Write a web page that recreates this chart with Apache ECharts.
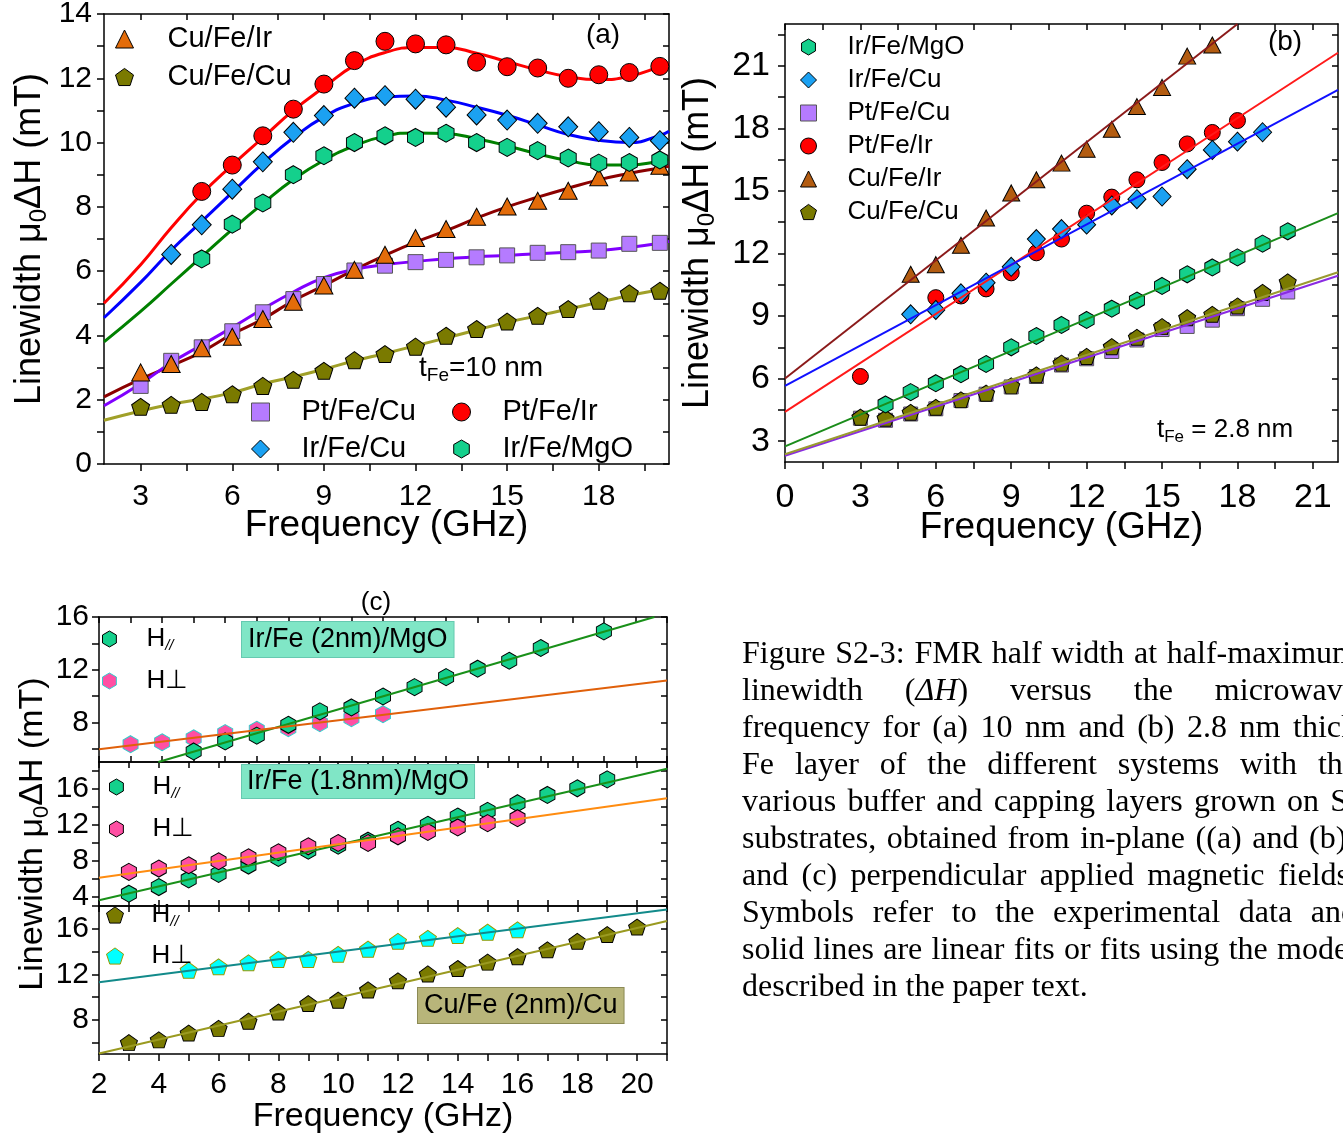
<!DOCTYPE html>
<html><head><meta charset="utf-8">
<script src="https://cdn.jsdelivr.net/npm/echarts@6/dist/echarts.min.js"></script>
<style>
html,body{margin:0;padding:0;background:#fff;overflow:hidden;width:1343px;height:1137px;}
#chart{position:absolute;left:0;top:0;width:1343px;height:1137px;}
#cap{position:absolute;left:742px;top:634px;width:615px;font-family:"Liberation Serif","Times New Roman",serif;font-size:32px;line-height:37px;color:#000;pointer-events:none;}
#cap div{height:37px;overflow:hidden;text-align:justify;text-align-last:justify;}
#cap div.last{text-align-last:left;}
</style></head><body>
<div id="chart"></div>
<div id="cap">
<div>Figure S2-3: FMR half width at half-maximum</div>
<div>linewidth (<i>ΔH</i>) versus the microwave</div>
<div>frequency for (a) 10 nm and (b) 2.8 nm thick</div>
<div>Fe layer of the different systems with the</div>
<div>various buffer and capping layers grown on Si</div>
<div>substrates, obtained from in-plane ((a) and (b))</div>
<div>and (c) perpendicular applied magnetic fields.</div>
<div>Symbols refer to the experimental data and</div>
<div>solid lines are linear fits or fits using the model</div>
<div class="last">described in the paper text.</div>
</div>
<script>
// ---------------- Panel (a): t_Fe = 10 nm ----------------
const freqA = [3,4,5,6,7,8,9,10,11,12,13,14,15,16,17,18,19,20];
const freqA4 = [4,5,6,7,8,9,10,11,12,13,14,15,16,17,18,19,20];
const freqA5 = [5,6,7,8,9,10,11,12,13,14,15,16,17,18,19,20];
const aCuFeIr = [2.85,3.11,3.6,3.96,4.51,5.05,5.55,6.04,6.51,7.03,7.31,7.69,8.01,8.19,8.5,8.92,9.07,9.28];
const aPtFeCu = [2.43,3.21,3.63,4.13,4.72,5.13,5.6,6.02,6.17,6.28,6.35,6.43,6.49,6.57,6.59,6.64,6.85,6.88];
const aCuFeCu = [1.78,1.84,1.93,2.17,2.43,2.62,2.9,3.23,3.42,3.65,3.99,4.2,4.43,4.61,4.82,5.08,5.31,5.39];
const aIrFeCu = [6.52,7.44,8.55,9.4,10.32,10.84,11.38,11.46,11.35,11.1,10.86,10.7,10.6,10.49,10.34,10.16,10.06];
const aPtFeIr = [8.48,9.3,10.21,11.04,11.82,12.55,13.15,13.07,13.04,12.5,12.36,12.32,12.0,12.11,12.18,12.37];
const aIrFeMgO = [6.38,7.46,8.12,9.0,9.59,10.0,10.21,10.16,10.29,10.0,9.85,9.75,9.52,9.36,9.38,9.46];
// model fit curves
const fitXA = [1.8,3,4,5,6,7,8,9,10,11,12,13,14,15,16,17,18,19,20,20.3];
const aFitPtFeIr = [5.0,6.2,7.35,8.4,9.3,10.15,11.0,11.72,12.4,12.8,12.96,12.96,12.78,12.52,12.26,12.05,11.96,12.06,12.36,12.48];
const aFitIrFeCu = [4.55,5.65,6.65,7.55,8.45,9.35,10.15,10.8,11.22,11.42,11.45,11.32,11.1,10.85,10.55,10.25,10.07,10.0,10.22,10.35];
const aFitIrFeMgO = [3.8,4.75,5.6,6.45,7.3,8.1,8.85,9.45,9.9,10.2,10.3,10.28,10.12,9.9,9.65,9.44,9.3,9.3,9.42,9.47];
const aFitCuFeIr = [2.09,2.64,3.05,3.49,4.04,4.51,5.08,5.55,6.04,6.49,6.9,7.26,7.65,8.0,8.3,8.58,8.84,9.04,9.21,9.26];
const aFitPtFeCu = [1.81,2.5,3.15,3.7,4.25,4.82,5.35,5.8,6.05,6.2,6.3,6.38,6.45,6.49,6.54,6.59,6.64,6.74,6.87,6.93];
const aFitCuFeCu = [1.36,1.65,1.86,2.02,2.22,2.49,2.71,2.95,3.21,3.44,3.68,3.92,4.17,4.41,4.61,4.82,5.03,5.24,5.42,5.46];

// ---------------- Panel (b): t_Fe = 2.8 nm ----------------
const freqB3 = [3,4,5,6,7,8,9,10,11,12,13,14,15,16,17,18,19,20];
const freqB4 = [4,5,6,7,8,9,10,11,12,13,14,15,16,17,18,19,20];
const freqBIrCu = [5,6,7,8,9,10,11,12,13,14,15,16,17,18,19];
const freqBPtIr = [3,6,7,8,9,10,11,12,13,14,15,16,17,18];
const freqBCuIr = [5,6,7,8,9,10,11,12,13,14,15,16,17];
const bCuFeCu = [4.15,4.1,4.38,4.62,4.98,5.3,5.65,6.18,6.74,7.06,7.53,7.98,8.49,8.92,9.08,9.48,10.13,10.64];
const bPtFeCu = [4.1,4.0,4.3,4.55,4.95,5.25,5.6,6.1,6.65,6.95,7.3,7.85,8.35,8.5,8.8,9.35,9.8,10.15];
const bIrFeMgO = [4.76,5.35,5.78,6.21,6.7,7.5,8.04,8.57,8.81,9.35,9.74,10.44,11.0,11.33,11.81,12.47,13.06];
const bIrFeCu = [9.08,9.29,10.09,10.6,11.36,12.69,13.17,13.38,14.3,14.6,14.73,16.04,16.96,17.36,17.81];
const bPtFeIr = [6.1,9.88,9.96,10.3,11.07,12.03,12.69,13.93,14.7,15.53,16.36,17.25,17.8,18.37];
const bCuFeIr = [11.0,11.46,12.39,13.7,14.9,15.53,16.33,17.0,17.95,19.04,19.96,21.46,21.99];
// linear fits (end points)
const fitXB = [0,22];
const fitXBCuIr = [0,18];
const bFitCuFeIr = [6.0,23.0];
const bFitPtFeIr = [4.4,21.62];
const bFitIrFeCu = [5.65,19.84];
const bFitIrFeMgO = [2.75,13.93];
const bFitCuFeCu = [2.37,11.1];
const bFitPtFeCu = [2.3,10.93];

// ---------------- Panel (c): perpendicular / parallel ----------------
const c1FreqPerp = [3,4,5,6,7,8,9,10,11];
const c1Perp = [6.35,6.5,6.8,7.19,7.44,7.57,7.95,8.33,8.63];
const c1FreqPar = [5,6,7,8,9,10,11,12,13,14,15,16,18];
const c1Par = [5.8,6.56,7.0,7.82,8.84,9.14,9.97,10.68,11.44,12.08,12.68,13.65,14.91];
const c1FitParX = [3.88,19.6], c1FitPar = [5.0,16.0];
const c1FitPerpX = [2,20], c1FitPerp = [5.97,11.19];

const c2FreqPar = [3,4,5,6,7,8,9,10,11,12,13,14,15,16,17,18,19];
const c2Par = [4.37,5.1,5.95,6.57,7.49,8.34,9.15,9.7,10.26,11.47,12.02,12.94,13.57,14.42,15.34,16.08,17.07];
const c2FreqPerp = [3,4,5,6,7,8,9,10,11,12,13,14,15,16];
const c2Perp = [6.79,7.16,7.53,7.97,8.41,8.97,9.63,10.0,10.0,10.74,11.22,11.73,12.21,12.76];
const c2FitX = [2,21], c2FitPar = [3.63,18.26], c2FitPerp = [6.13,14.96];

const c3FreqPar = [3,4,5,6,7,8,9,10,11,12,13,14,15,16,17,18,19,20];
const c3Par = [6.0,6.24,6.84,7.25,7.88,8.69,9.43,9.73,10.63,11.43,12.03,12.51,13.07,13.55,14.15,14.9,15.49,16.15];
const c3FreqPerp = [5,6,7,8,9,10,11,12,13,14,15,16];
const c3Perp = [12.36,12.66,13.01,13.31,13.31,13.76,14.21,14.9,15.16,15.4,15.7,15.91];
const c3FitX = [2,21], c3FitPar = [5.04,16.69], c3FitPerp = [11.3,17.7];

// ---------------- tick labels / tick positions ----------------
const aXLabels = [3,6,9,12,15,18];
const aXTicks = [3,4.5,6,7.5,9,10.5,12,13.5,15,16.5,18,19.5];
const aYLabels = [0,2,4,6,8,10,12,14];
const aYTicks = [0,1,2,3,4,5,6,7,8,9,10,11,12,13,14];
const bXLabels = [0,3,6,9,12,15,18,21];
const bXTicks = [0,1.5,3,4.5,6,7.5,9,10.5,12,13.5,15,16.5,18,19.5,21];
const bYLabels = [3,6,9,12,15,18,21];
const bYTicks = [3,4.5,6,7.5,9,10.5,12,13.5,15,16.5,18,19.5,21,22.5];
const cXLabels = [2,4,6,8,10,12,14,16,18,20];
const c1XTicks = [2,3,4,5,6,7,8,9,10,11,12,13,14,15,16,17,18,19,20];
const c23XTicks = [2,3,4,5,6,7,8,9,10,11,12,13,14,15,16,17,18,19,20,21];
const c1YLabels = [8,12,16], c1YTicks = [6,8,10,12,14,16];
const c2YLabels = [4,8,12,16], c2YTicks = [4,6,8,10,12,14,16,18];
const c3YLabels = [8,12,16], c3YTicks = [6,8,10,12,14,16,18];

// ---------------- helpers ----------------
const FONT = '"Liberation Sans", Arial, Helvetica, sans-serif';
const HEX = 'path://M50,0L93.3,25L93.3,75L50,100L6.7,75L6.7,25Z';
const PENT = 'path://M50,0L97.6,34.5L79.4,90.5L20.6,90.5L2.4,34.5Z';
const pts = (xs, ys) => xs.map((x, i) => [x, ys[i]]);

function axis(grid, pos, min, max, ticks, labels, fontSize, margin, inside, extra) {
  const a = {
    type: 'value', gridIndex: grid, position: pos, min: min, max: max,
    splitLine: { show: false },
    axisLine: { show: true, onZero: false, lineStyle: { color: '#000', width: 1.5 } },
    axisTick: { show: true, inside: inside, length: inside ? 6 : 7, lineStyle: { color: '#000', width: 1.5 }, customValues: ticks },
    axisLabel: labels ? { show: true, customValues: labels, fontSize: fontSize, fontFamily: FONT, color: '#000', margin: margin } : { show: false },
    axisPointer: { show: false }, silent: true
  };
  return Object.assign(a, extra || {});
}
const yName = '{a|Linewidth μ}{s|0}{a|ΔH (mT)}';
function yNameStyle(fs) {
  return { fontFamily: FONT, color: '#000', rich: {
    a: { fontSize: fs, fontFamily: FONT, color: '#000', lineHeight: fs + 6 },
    s: { fontSize: Math.round(fs * 0.66), fontFamily: FONT, color: '#000', lineHeight: Math.round(fs * 0.55), verticalAlign: 'bottom' } } };
}
function xNameOpts(gap, fs) {
  return { name: 'Frequency (GHz)', nameLocation: 'middle', nameGap: gap, nameMoveOverlap: false,
    nameTextStyle: { fontSize: fs, fontFamily: FONT, color: '#000' } };
}
function yNameOpts(gap, fs) {
  return { name: yName, nameLocation: 'middle', nameGap: gap, nameRotate: 90, nameMoveOverlap: false, nameTextStyle: yNameStyle(fs) };
}
function scat(name, xi, xs, ys, symbol, size, color, border, z) {
  return { type: 'scatter', name: name, xAxisIndex: xi, yAxisIndex: xi, data: pts(xs, ys), symbol: symbol, symbolSize: size,
    itemStyle: { color: color, borderColor: border, borderWidth: 1, opacity: 1 }, z: z, silent: true, emphasis: { disabled: true } };
}
function fit(id, xi, xs, ys, color, width, smooth, z) {
  return { type: 'line', name: id, xAxisIndex: xi, yAxisIndex: xi, data: pts(xs, ys), showSymbol: false, symbol: 'none', smooth: smooth,
    lineStyle: { color: color, width: width }, z: z, silent: true, emphasis: { disabled: true } };
}
// legend: icon box = icon size, extra gap before the text via an empty rich token of given width
function leg(left, top, icon, gapText, itemGap, fs, lh, items, hStyle) {
  const rich = { g: { width: gapText, fontSize: fs, lineHeight: lh }, t: { fontSize: fs, fontFamily: FONT, color: '#000', lineHeight: lh },
    h: { fontSize: fs, fontFamily: FONT, color: '#000', lineHeight: lh },
    s: { fontSize: 15, fontFamily: FONT, fontStyle: 'italic', color: '#000', lineHeight: 14, verticalAlign: 'bottom' } };
  const fmt = hStyle ? (n => n === 'H//' ? '{g| }{h|H}{s|//}' : '{g| }{h|H⊥}') : (n => '{g| }{t|' + n + '}');
  return { orient: 'vertical', left: left, top: top, itemWidth: icon, itemHeight: icon, itemGap: itemGap, padding: 0,
    selectedMode: false, formatter: fmt, textStyle: { fontSize: fs, fontFamily: FONT, color: '#000', lineHeight: lh, rich: rich }, data: items };
}
const li = (name, icon, color, border) => ({ name: name, icon: icon, itemStyle: { color: color, borderColor: border, borderWidth: 1 } });

// colours
const C = {
  red: '#ff0000', blueFill: '#1ba1f2', blueLine: '#0000ff', greenFill: '#14d08c', greenLine: '#008000',
  orange: '#e36c0a', brownLine: '#8b0000', purpleFill: '#b57bff', purpleLine: '#8000ff', olive: '#7a7a00', oliveLine: '#a0a028',
  brownB: '#b35c11', pink: '#ff4fa3', cyan: '#00ffff'
};

const option = {
  animation: false,
  textStyle: { fontFamily: FONT },
  grid: [
    { left: 104, top: 14, width: 565, height: 450, outerBoundsMode: 'none', containLabel: false },
    { left: 785, top: 24, width: 553, height: 438, outerBoundsMode: 'none', containLabel: false },
    { left: 99, top: 617, width: 568, height: 145, outerBoundsMode: 'none', containLabel: false },
    { left: 99, top: 762, width: 568, height: 144, outerBoundsMode: 'none', containLabel: false },
    { left: 99, top: 906, width: 568, height: 148, outerBoundsMode: 'none', containLabel: false }
  ],
  xAxis: [
    axis(0, 'bottom', 1.8, 20.3, aXTicks, aXLabels, 30, 18, false, xNameOpts(43, 37)),
    axis(0, 'top', 1.8, 20.3, aXTicks, null, 0, 0, true),
    axis(1, 'bottom', 0, 22, bXTicks, bXLabels, 34, 19, false, xNameOpts(47, 37)),
    axis(1, 'top', 0, 22, bXTicks, null, 0, 0, true),
    axis(2, 'bottom', 2, 20, c1XTicks, null, 0, 0, true),
    axis(2, 'top', 2, 20, c1XTicks, null, 0, 0, true),
    axis(3, 'bottom', 2, 21, c23XTicks, null, 0, 0, true),
    axis(3, 'top', 2, 21, c23XTicks, null, 0, 0, true),
    axis(4, 'bottom', 2, 21, c23XTicks, cXLabels, 30, 16, false, xNameOpts(46, 34)),
    axis(4, 'top', 2, 21, c23XTicks, null, 0, 0, true)
  ],
  yAxis: [
    axis(0, 'left', 0, 14, aYTicks, aYLabels, 30, 12, false, yNameOpts(53, 36)),
    axis(0, 'right', 0, 14, aYTicks, null, 0, 0, true),
    axis(1, 'left', 2, 23, bYTicks, bYLabels, 34, 15, false, yNameOpts(66, 36)),
    axis(1, 'right', 2, 23, bYTicks, null, 0, 0, true),
    axis(2, 'left', 5, 16, c1YTicks, c1YLabels, 30, 10, false),
    axis(2, 'right', 5, 16, c1YTicks, null, 0, 0, true),
    axis(3, 'left', 3, 19, c2YTicks, c2YLabels, 30, 10, false, yNameOpts(46, 34)),
    axis(3, 'right', 3, 19, c2YTicks, null, 0, 0, true),
    axis(4, 'left', 5, 18, c3YTicks, c3YLabels, 30, 10, false),
    axis(4, 'right', 5, 18, c3YTicks, null, 0, 0, true)
  ],
  legend: [
    leg(115, 24, 18, 29, 8, 29, 30, [li('Cu/Fe/Ir', 'triangle', C.orange, '#000'), li('Cu/Fe/Cu', PENT, C.olive, '#000')]),
    leg(251, 397, 18, 27, 7, 29, 30, [li('Pt/Fe/Cu', 'rect', C.purpleFill, '#555'), li('Ir/Fe/Cu', 'diamond', C.blueFill, '#000')]),
    leg(452, 397, 18, 27, 7, 29, 30, [li('Pt/Fe/Ir', 'circle', C.red, '#000'), li('Ir/Fe/MgO', HEX, C.greenFill, '#000')]),
    leg(800, 33, 16, 26, 5, 26, 28, [li('Ir/Fe/MgO', HEX, C.greenFill, '#000'), li('Ir/Fe/Cu', 'diamond', C.blueFill, '#000'),
      li('Pt/Fe/Cu', 'rect', C.purpleFill, '#555'), li('Pt/Fe/Ir', 'circle', C.red, '#000'), li('Cu/Fe/Ir', 'triangle', C.brownB, '#000'),
      li('Cu/Fe/Cu', PENT, C.olive, '#000')]),
    leg(102, 625, 16, 24, 14, 26, 28, [li('H//', HEX, C.greenFill, '#000'), li('H⊥', HEX, C.pink, '#3cc')], true),
    leg(109, 773, 16, 23, 14, 26, 28, [li('H//', HEX, C.greenFill, '#000'), li('H⊥', HEX, C.pink, '#000')], true),
    leg(106, 901, 17, 23, 13, 26, 28, [li('H//', PENT, C.olive, '#000'), li('H⊥', PENT, C.cyan, '#999900')], true)
  ],
  graphic: [
    { type: 'text', x: 603, y: 35, z: 10, style: { text: '(a)', fontSize: 28, fontFamily: FONT, fill: '#000', align: 'center', verticalAlign: 'middle' } },
    { type: 'text', x: 1285, y: 42, z: 10, style: { text: '(b)', fontSize: 28, fontFamily: FONT, fill: '#000', align: 'center', verticalAlign: 'middle' } },
    { type: 'text', x: 376, y: 603, z: 10, style: { text: '(c)', fontSize: 26, fontFamily: FONT, fill: '#000', align: 'center', verticalAlign: 'middle' } },
    { type: 'text', x: 419, y: 368, z: 10, style: { text: '{m|t}{s|Fe}{m|=10 nm}', align: 'left', verticalAlign: 'middle',
      rich: { m: { fontSize: 28, fontFamily: FONT, fill: '#000', lineHeight: 34 }, s: { fontSize: 19, fontFamily: FONT, fill: '#000', lineHeight: 18, verticalAlign: 'bottom' } } } },
    { type: 'text', x: 1157, y: 430, z: 10, style: { text: '{m|t}{s|Fe}{m| = 2.8 nm}', align: 'left', verticalAlign: 'middle',
      rich: { m: { fontSize: 26, fontFamily: FONT, fill: '#000', lineHeight: 32 }, s: { fontSize: 17, fontFamily: FONT, fill: '#000', lineHeight: 16, verticalAlign: 'bottom' } } } },
    { type: 'text', x: 242, y: 622, z: 10, style: { text: 'Ir/Fe (2nm)/MgO', fontSize: 27, fontFamily: FONT, fill: '#000', align: 'left', verticalAlign: 'top',
      backgroundColor: '#80e6c6', borderColor: '#66c9b0', borderWidth: 1, padding: [4, 6, 4, 6] } },
    { type: 'text', x: 242, y: 765, z: 10, style: { text: 'Ir/Fe (1.8nm)/MgO', fontSize: 27, fontFamily: FONT, fill: '#000', align: 'left', verticalAlign: 'top',
      backgroundColor: '#80e6c6', borderColor: '#66c9b0', borderWidth: 1, padding: [3, 5, 3, 5] } },
    { type: 'text', x: 418, y: 988, z: 10, style: { text: 'Cu/Fe (2nm)/Cu', fontSize: 27, fontFamily: FONT, fill: '#000', align: 'left', verticalAlign: 'top',
      backgroundColor: '#b8b57a', borderColor: '#8c8a55', borderWidth: 1, padding: [4, 6, 4, 6] } }
  ],
  series: [
    // panel (a) fits
    fit('fitA-PtFeIr', 0, fitXA, aFitPtFeIr, C.red, 3, true, 2),
    fit('fitA-IrFeCu', 0, fitXA, aFitIrFeCu, C.blueLine, 3, true, 2),
    fit('fitA-IrFeMgO', 0, fitXA, aFitIrFeMgO, C.greenLine, 3, true, 2),
    fit('fitA-CuFeIr', 0, fitXA, aFitCuFeIr, C.brownLine, 3, true, 2),
    fit('fitA-PtFeCu', 0, fitXA, aFitPtFeCu, C.purpleLine, 3, true, 2),
    fit('fitA-CuFeCu', 0, fitXA, aFitCuFeCu, C.oliveLine, 3, true, 2),
    // panel (a) data
    scat('Pt/Fe/Cu', 0, freqA, aPtFeCu, 'rect', 15, C.purpleFill, '#555', 3),
    scat('Cu/Fe/Ir', 0, freqA, aCuFeIr, 'triangle', [18, 17], C.orange, '#000', 3),
    scat('Cu/Fe/Cu', 0, freqA, aCuFeCu, PENT, [18, 17], C.olive, '#000', 3),
    scat('Ir/Fe/MgO', 0, freqA5, aIrFeMgO, HEX, [16, 18], C.greenFill, '#000', 3),
    scat('Ir/Fe/Cu', 0, freqA4, aIrFeCu, 'diamond', [19, 20], C.blueFill, '#000', 3),
    scat('Pt/Fe/Ir', 0, freqA5, aPtFeIr, 'circle', 18, C.red, '#000', 3),
    // panel (b) data
    scat('Pt/Fe/Cu', 2, freqB3, bPtFeCu, 'rect', 14, C.purpleFill, '#555', 2),
    scat('Cu/Fe/Cu', 2, freqB3, bCuFeCu, PENT, [17, 16], C.olive, '#000', 2),
    scat('Ir/Fe/MgO', 2, freqB4, bIrFeMgO, HEX, [15, 17], C.greenFill, '#000', 2),
    scat('Pt/Fe/Ir', 2, freqBPtIr, bPtFeIr, 'circle', 16, C.red, '#000', 2),
    scat('Ir/Fe/Cu', 2, freqBIrCu, bIrFeCu, 'diamond', [18, 19], C.blueFill, '#000', 2),
    scat('Cu/Fe/Ir', 2, freqBCuIr, bCuFeIr, 'triangle', [17, 16], C.brownB, '#000', 2),
    // panel (b) fits
    fit('fitB-CuFeIr', 2, fitXBCuIr, bFitCuFeIr, '#8b1a1a', 2, false, 3),
    fit('fitB-PtFeIr', 2, fitXB, bFitPtFeIr, '#ff1a1a', 2, false, 3),
    fit('fitB-IrFeCu', 2, fitXB, bFitIrFeCu, '#1010ff', 2, false, 3),
    fit('fitB-IrFeMgO', 2, fitXB, bFitIrFeMgO, '#1a8c1a', 2, false, 3),
    fit('fitB-PtFeCu', 2, fitXB, bFitPtFeCu, '#8a2be2', 2, false, 3),
    fit('fitB-CuFeCu', 2, fitXB, bFitCuFeCu, '#9a9a30', 2, false, 3),
    // panel (c) subplot 1
    scat('H⊥', 4, c1FreqPerp, c1Perp, HEX, [15, 17], C.pink, '#3cc', 2),
    scat('H//', 4, c1FreqPar, c1Par, HEX, [15, 17], C.greenFill, '#000', 2),
    fit('fitC1-par', 4, c1FitParX, c1FitPar, '#199019', 2, false, 3),
    fit('fitC1-perp', 4, c1FitPerpX, c1FitPerp, '#e0600a', 2, false, 3),
    // subplot 2
    scat('H//', 6, c2FreqPar, c2Par, HEX, [15, 17], C.greenFill, '#000', 2),
    scat('H⊥', 6, c2FreqPerp, c2Perp, HEX, [15, 17], C.pink, '#000', 2),
    fit('fitC2-par', 6, c2FitX, c2FitPar, '#199019', 2, false, 3),
    fit('fitC2-perp', 6, c2FitX, c2FitPerp, '#ff8c10', 2, false, 3),
    // subplot 3
    scat('H⊥', 8, c3FreqPerp, c3Perp, PENT, [17, 16], C.cyan, '#999900', 2),
    scat('H//', 8, c3FreqPar, c3Par, PENT, [17, 16], C.olive, '#000', 2),
    fit('fitC3-perp', 8, c3FitX, c3FitPerp, '#128a8a', 2, false, 3),
    fit('fitC3-par', 8, c3FitX, c3FitPar, '#9a9a20', 2, false, 3)
  ]
};
const chart = echarts.init(document.getElementById('chart'), null, { renderer: 'canvas' });
chart.setOption(option);
</script></body></html>
